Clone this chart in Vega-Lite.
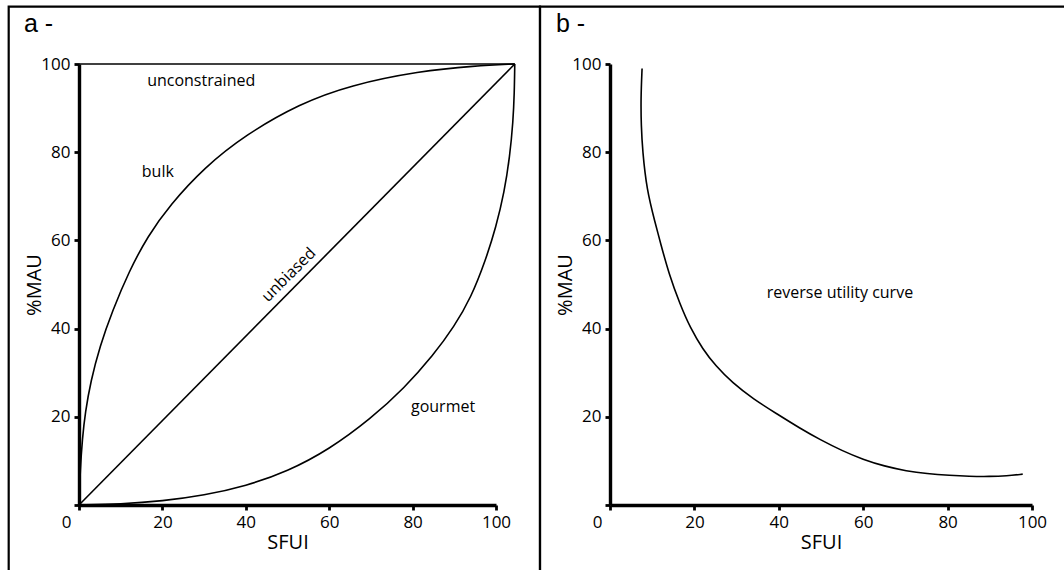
{
  "$schema": "https://vega.github.io/schema/vega-lite/v6.json",
  "background": "white",
  "padding": {"left": 7, "top": 5, "right": 0, "bottom": 0},
  "autosize": {"type": "pad"},
  "bounds": "flush",
  "spacing": 114,
  "config": {
    "view": {"stroke": null},
    "axis": {
      "grid": false,
      "domainColor": "black",
      "domainWidth": 3.4,
      "tickColor": "black",
      "tickWidth": 2.8,
      "tickSize": 5,
      "labelColor": "black",
      "labelFont": "Open Sans",
      "labelFontSize": 17,
      "labelPadding": 4,
      "labelFlush": false,
      "titleFont": "Open Sans",
      "titleFontSize": 20,
      "titleFontWeight": "normal",
      "titleColor": "black"
    }
  },
  "datasets": {
    "panelA": [
      {"curve": "unconstrained", "x": 0, "y": 100},
      {"curve": "unconstrained", "x": 104.5, "y": 100},
      {"curve": "unbiased", "x": 0, "y": 0},
      {"curve": "unbiased", "x": 104.5, "y": 100},
      {"curve": "bulk", "x": 0, "y": 0},
      {"curve": "bulk", "x": 0.3, "y": 8},
      {"curve": "bulk", "x": 0.8, "y": 15},
      {"curve": "bulk", "x": 1.5, "y": 21},
      {"curve": "bulk", "x": 2.8, "y": 28},
      {"curve": "bulk", "x": 5, "y": 36},
      {"curve": "bulk", "x": 8, "y": 44},
      {"curve": "bulk", "x": 12, "y": 53},
      {"curve": "bulk", "x": 16.5, "y": 61},
      {"curve": "bulk", "x": 21.8, "y": 68},
      {"curve": "bulk", "x": 30, "y": 76.5},
      {"curve": "bulk", "x": 40, "y": 84},
      {"curve": "bulk", "x": 52.9, "y": 91},
      {"curve": "bulk", "x": 65, "y": 95.2},
      {"curve": "bulk", "x": 81.6, "y": 98.4},
      {"curve": "bulk", "x": 95, "y": 99.6},
      {"curve": "bulk", "x": 104.5, "y": 100},
      {"curve": "gourmet", "x": 0, "y": 0},
      {"curve": "gourmet", "x": 10, "y": 0.2},
      {"curve": "gourmet", "x": 20, "y": 0.9},
      {"curve": "gourmet", "x": 30, "y": 2.2},
      {"curve": "gourmet", "x": 40, "y": 4.3},
      {"curve": "gourmet", "x": 50, "y": 7.6},
      {"curve": "gourmet", "x": 60, "y": 12.6},
      {"curve": "gourmet", "x": 70, "y": 19.6},
      {"curve": "gourmet", "x": 78, "y": 26.5},
      {"curve": "gourmet", "x": 85, "y": 34},
      {"curve": "gourmet", "x": 90, "y": 40.5},
      {"curve": "gourmet", "x": 94, "y": 47},
      {"curve": "gourmet", "x": 97.5, "y": 55.5},
      {"curve": "gourmet", "x": 100, "y": 63},
      {"curve": "gourmet", "x": 102, "y": 71},
      {"curve": "gourmet", "x": 103.3, "y": 79},
      {"curve": "gourmet", "x": 104.1, "y": 87},
      {"curve": "gourmet", "x": 104.4, "y": 93.5},
      {"curve": "gourmet", "x": 104.5, "y": 100}
    ],
    "panelB": [
      {"x": 7.6, "y": 99},
      {"x": 7.3, "y": 92},
      {"x": 7.4, "y": 86},
      {"x": 7.7, "y": 80.5},
      {"x": 8.7, "y": 71.5},
      {"x": 10.7, "y": 64},
      {"x": 12, "y": 59.3},
      {"x": 14, "y": 52.3},
      {"x": 16.6, "y": 45.5},
      {"x": 19, "y": 40.2},
      {"x": 22, "y": 35.3},
      {"x": 25, "y": 31.6},
      {"x": 29, "y": 27.7},
      {"x": 34, "y": 24.0},
      {"x": 39.5, "y": 20.7},
      {"x": 45, "y": 17.4},
      {"x": 49.8, "y": 14.8},
      {"x": 55, "y": 12.3},
      {"x": 60, "y": 10.3},
      {"x": 65, "y": 8.8},
      {"x": 70.3, "y": 7.7},
      {"x": 75, "y": 7.1},
      {"x": 80.6, "y": 6.7},
      {"x": 85, "y": 6.5},
      {"x": 90, "y": 6.45},
      {"x": 94, "y": 6.6},
      {"x": 97.8, "y": 7.0}
    ],
    "labelsA": [
      {"x": 29.3, "y": 96.1, "text": "unconstrained"},
      {"x": 18.9, "y": 75.5, "text": "bulk"},
      {"x": 87.3, "y": 22.2, "text": "gourmet"}
    ],
    "diagA": [
      {"x": 50.3, "y": 52.2, "text": "unbiased"}
    ],
    "labelsB": [
      {"x": 54.5, "y": 48, "text": "reverse utility curve"}
    ],
    "panelTitleA": [{"x": -13.2, "y": 107.3, "text": "a -"}],
    "panelTitleB": [{"x": -12.8, "y": 107.3, "text": "b -"}]
  },
  "hconcat": [
    {
      "width": 417,
      "height": 441,
      "layer": [
        {
          "data": {"name": "panelA"},
          "mark": {"type": "line", "color": "black", "strokeWidth": 1.6, "interpolate": "basis"},
          "encoding": {
            "x": {
              "field": "x", "type": "quantitative",
              "scale": {"domain": [0, 100], "nice": false, "zero": false},
              "axis": {
                "values": [0, 20, 40, 60, 80, 100],
                "title": "SFUI",
                "titlePadding": 2,
                "domain": true,
                "domainWidth": 3.4,
                "domainColor": "black",
                "tickWidth": 2.8,
                "labelFlush": false,
                "labelOffset": {"condition": {"test": "datum.value == 0", "value": -13}, "value": 0}
              }
            },
            "y": {
              "field": "y", "type": "quantitative",
              "scale": {"domain": [0, 100], "nice": false, "zero": false},
              "axis": {
                "values": [0, 20, 40, 60, 80, 100],
                "title": "%MAU",
                "titlePadding": -4,
                "domain": true,
                "domainWidth": 3.4,
                "domainColor": "black",
                "tickWidth": 2.8,
                "labelFlush": false,
                "labelExpr": "datum.value == 0 ? '' : datum.label"
              }
            },
            "detail": {"field": "curve"}
          }
        },
        {
          "data": {"values": [{}]},
          "mark": {"type": "rect", "filled": false, "stroke": "black", "strokeWidth": 2.2},
          "encoding": {
            "x": {"datum": -16.86, "type": "quantitative"},
            "x2": {"datum": 110.55},
            "y": {"datum": -16, "type": "quantitative"},
            "y2": {"datum": 113}
          }
        },
        {
          "data": {"name": "labelsA"},
          "mark": {"type": "text", "font": "Open Sans", "fontSize": 16, "color": "black", "align": "center", "baseline": "middle"},
          "encoding": {
            "x": {"field": "x", "type": "quantitative"},
            "y": {"field": "y", "type": "quantitative"},
            "text": {"field": "text"}
          }
        },
        {
          "data": {"name": "diagA"},
          "mark": {"type": "text", "font": "Open Sans", "fontSize": 16, "color": "black", "align": "center", "baseline": "middle", "angle": -45},
          "encoding": {
            "x": {"field": "x", "type": "quantitative"},
            "y": {"field": "y", "type": "quantitative"},
            "text": {"field": "text"}
          }
        },
        {
          "data": {"name": "panelTitleA"},
          "mark": {"type": "text", "font": "Liberation Sans", "fontSize": 25, "color": "black", "align": "left", "baseline": "alphabetic"},
          "encoding": {
            "x": {"field": "x", "type": "quantitative"},
            "y": {"field": "y", "type": "quantitative"},
            "text": {"field": "text"}
          }
        }
      ]
    },
    {
      "width": 422,
      "height": 441,
      "layer": [
        {
          "data": {"name": "panelB"},
          "mark": {"type": "line", "color": "black", "strokeWidth": 1.6, "interpolate": "basis"},
          "encoding": {
            "x": {
              "field": "x", "type": "quantitative",
              "scale": {"domain": [0, 100], "nice": false, "zero": false},
              "axis": {
                "values": [0, 20, 40, 60, 80, 100],
                "title": "SFUI",
                "titlePadding": 2,
                "domain": true,
                "domainWidth": 3.4,
                "domainColor": "black",
                "tickWidth": 2.8,
                "labelFlush": false,
                "labelOffset": {"condition": {"test": "datum.value == 0", "value": -13}, "value": 0}
              }
            },
            "y": {
              "field": "y", "type": "quantitative",
              "scale": {"domain": [0, 100], "nice": false, "zero": false},
              "axis": {
                "values": [0, 20, 40, 60, 80, 100],
                "title": "%MAU",
                "titlePadding": -4,
                "domain": true,
                "domainWidth": 3.4,
                "domainColor": "black",
                "tickWidth": 2.8,
                "labelFlush": false,
                "labelExpr": "datum.value == 0 ? '' : datum.label"
              }
            },
            "order": {"value": null}
          }
        },
        {
          "data": {"values": [{}]},
          "mark": {"type": "rect", "filled": false, "stroke": "black", "strokeWidth": 2.2},
          "encoding": {
            "x": {"datum": -16.59, "type": "quantitative"},
            "x2": {"datum": 112},
            "y": {"datum": -16, "type": "quantitative"},
            "y2": {"datum": 113}
          }
        },
        {
          "data": {"name": "labelsB"},
          "mark": {"type": "text", "font": "Open Sans", "fontSize": 16, "color": "black", "align": "center", "baseline": "middle"},
          "encoding": {
            "x": {"field": "x", "type": "quantitative"},
            "y": {"field": "y", "type": "quantitative"},
            "text": {"field": "text"}
          }
        },
        {
          "data": {"name": "panelTitleB"},
          "mark": {"type": "text", "font": "Liberation Sans", "fontSize": 25, "color": "black", "align": "left", "baseline": "alphabetic"},
          "encoding": {
            "x": {"field": "x", "type": "quantitative"},
            "y": {"field": "y", "type": "quantitative"},
            "text": {"field": "text"}
          }
        }
      ]
    }
  ]
}
